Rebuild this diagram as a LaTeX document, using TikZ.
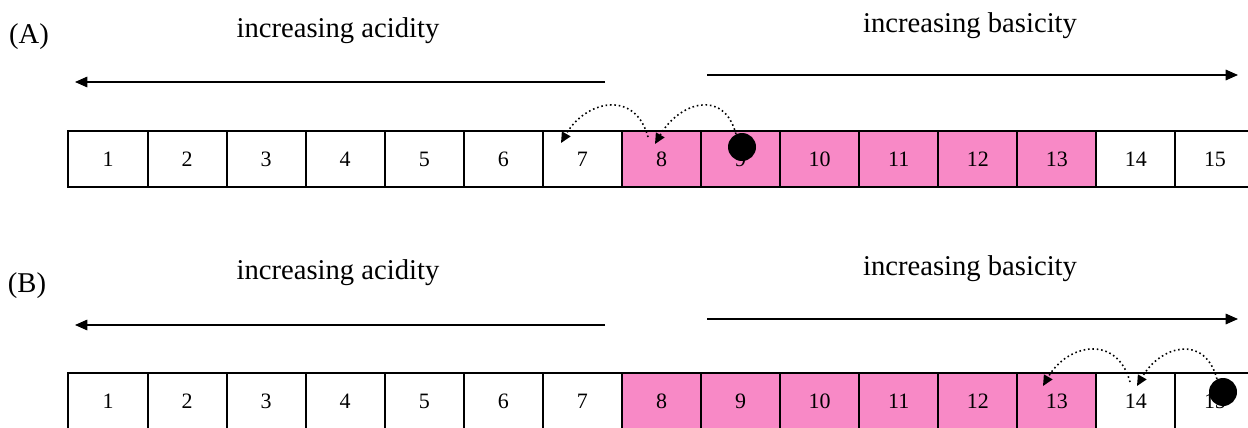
\documentclass[tikz,border=0pt]{standalone}
\usepackage{fontspec}
\setmainfont{Liberation Serif}
\usetikzlibrary{arrows.meta, calc}
\definecolor{basepink}{RGB}{248,137,198}
\tikzset{
    cell/.style={rectangle, draw, line width=1.1pt, minimum width=1.582cm, minimum height=1.12cm, inner sep=0pt, font=\fontsize{12.5}{14}\selectfont},
    base cell/.style={cell, fill=basepink},
    headline/.style={font=\fontsize{16.3}{19}\selectfont, anchor=base, inner sep=0pt},
    trend/.style={line width=0.8pt, -{Triangle[length=7pt, width=6pt]}},
    ball/.style={circle, fill=black, minimum size=0.56cm, inner sep=0pt},
    hop/.style={line width=0.9pt, dash pattern=on 0.9pt off 1.6pt, -{Triangle[length=6pt, width=5.5pt]}}
}

\begin{document}
\begin{tikzpicture}[x=0.02cm, y=0.02cm]
    \useasboundingbox (0,0) rectangle (1248,427);
    \clip (0,0) rectangle (1248,427);

    % (A)
    \node[headline] (tagA) at (29,384) {(A)};
    \node[headline] (acidA) at (338,390) {increasing acidity};
    \node[headline] (basicA) at (970,395) {increasing basicity};
    \coordinate (acidA0) at (605,345);
    \coordinate (acidA1) at (75,345);
    \coordinate (basicA0) at (707,352);
    \coordinate (basicA1) at (1238,352);
    \draw[trend] (acidA0) -- (acidA1);
    \draw[trend] (basicA0) -- (basicA1);

    \foreach \i in {1,...,7,14,15}
        \node[cell] (a\i) at ({108+79.07*(\i-1)},268) {\i};
    \foreach \i in {8,...,13}
        \node[base cell] (a\i) at ({108+79.07*(\i-1)},268) {\i};

    \node[ball] (ballA) at (742,280) {};
    \coordinate (landA8) at (655,283);
    \coordinate (leapA8) at (648,290);
    \coordinate (landA7) at (561,284);
    \draw[hop] (ballA.115) to[out=105, in=60, looseness=1.5] (landA8);
    \draw[hop] (leapA8) to[out=105, in=60, looseness=1.45] (landA7);

    % (B)
    \node[headline] (tagB) at (27,135) {(B)};
    \node[headline] (acidB) at (338,148) {increasing acidity};
    \node[headline] (basicB) at (970,152) {increasing basicity};
    \coordinate (acidB0) at (605,102);
    \coordinate (acidB1) at (75,102);
    \coordinate (basicB0) at (707,108);
    \coordinate (basicB1) at (1238,108);
    \draw[trend] (acidB0) -- (acidB1);
    \draw[trend] (basicB0) -- (basicB1);

    \foreach \i in {1,...,7,14,15}
        \node[cell] (b\i) at ({108+79.07*(\i-1)},26) {\i};
    \foreach \i in {8,...,13}
        \node[base cell] (b\i) at ({108+79.07*(\i-1)},26) {\i};

    \node[ball] (ballB) at (1223,35) {};
    \coordinate (landB14) at (1137,41);
    \coordinate (leapB14) at (1130,45);
    \coordinate (landB13) at (1043,41);
    \draw[hop] (ballB.115) to[out=105, in=60, looseness=1.5] (landB14);
    \draw[hop] (leapB14) to[out=105, in=60, looseness=1.45] (landB13);
\end{tikzpicture}
\end{document}
